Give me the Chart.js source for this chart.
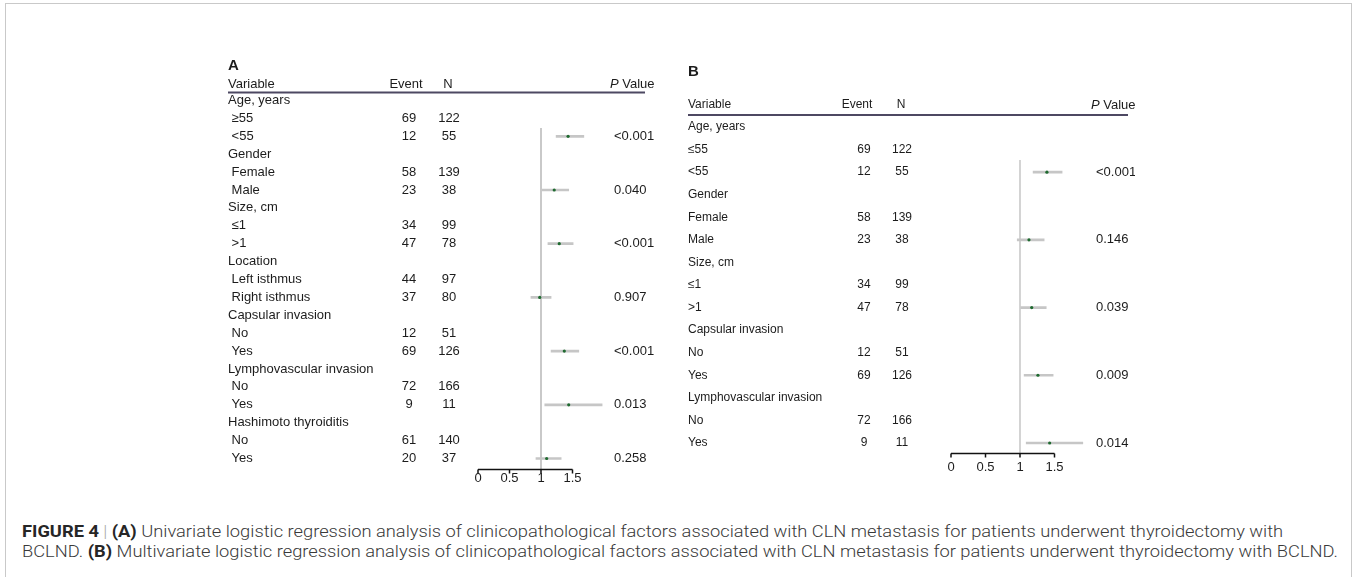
<!DOCTYPE html>
<html><head><meta charset="utf-8">
<script src="https://cdn.jsdelivr.net/npm/chart.js@4"></script>
<style>
html,body{margin:0;padding:0;background:#fff;}
body{width:1356px;height:577px;overflow:hidden;position:relative;font-family:"Liberation Sans",Arial,sans-serif;}
#frame{position:absolute;left:5px;top:3px;width:1347px;height:640px;border:1px solid #c9c9c9;box-sizing:border-box;}
canvas{position:absolute;}
.cap{position:absolute;left:22px;white-space:nowrap;font-family:Roboto,"Liberation Sans",sans-serif;font-weight:300;font-size:17px;line-height:20px;color:#3a3a3a;transform-origin:0 50%;}
.cap b{color:#262626;font-weight:700;}
.cap .sep{color:#a8a8a8;font-weight:300;padding:0 4px;}
</style></head>
<body>
<div id="frame"></div>
<canvas id="cA" width="480" height="460" style="left:200px;top:40px"></canvas>
<canvas id="cB" width="455" height="460" style="left:680px;top:40px"></canvas>
<div class="cap" id="cap1" style="top:521px"><b>FIGURE 4</b><span class="sep">|</span><b>(A)</b> Univariate logistic regression analysis of clinicopathological factors associated with CLN metastasis for patients underwent thyroidectomy with</div>
<div class="cap" id="cap2" style="top:541px">BCLND. <b>(B)</b> Multivariate logistic regression analysis of clinicopathological factors associated with CLN metastasis for patients underwent thyroidectomy with BCLND.</div>
<script>
// ---------- DATA: Panel A (univariate) ----------
const rowsA = ['Age, years',' ≥55',' <55','Gender',' Female',' Male','Size, cm',' ≤1',' >1','Location',' Left isthmus',' Right isthmus','Capsular invasion',' No',' Yes','Lymphovascular invasion',' No',' Yes','Hashimoto thyroiditis',' No',' Yes'];
const eventA = [null,69,12,null,58,23,null,34,47,null,44,37,null,12,69,null,72,9,null,61,20];
const nA     = [null,122,55,null,139,38,null,99,78,null,97,80,null,51,126,null,166,11,null,140,37];
const orA    = [null,null,1.43,null,null,1.21,null,null,1.29,null,null,0.98,null,null,1.37,null,null,1.44,null,null,1.09];
const lowA   = [null,null,1.24,null,null,1.02,null,null,1.11,null,null,0.84,null,null,1.16,null,null,1.06,null,null,0.92];
const highA  = [null,null,1.68,null,null,1.44,null,null,1.51,null,null,1.16,null,null,1.60,null,null,1.97,null,null,1.32];
const pA     = [null,null,'<0.001',null,null,'0.040',null,null,'<0.001',null,null,'0.907',null,null,'<0.001',null,null,'0.013',null,null,'0.258'];

// ---------- DATA: Panel B (multivariate) ----------
const rowsB = ['Age, years','≤55','<55','Gender','Female','Male','Size, cm','≤1','>1','Capsular invasion','No','Yes','Lymphovascular invasion','No','Yes'];
const eventB = [null,69,12,null,58,23,null,34,47,null,12,69,null,72,9];
const nB     = [null,122,55,null,139,38,null,99,78,null,51,126,null,166,11];
const orB    = [null,null,1.39,null,null,1.13,null,null,1.17,null,null,1.26,null,null,1.43];
const lowB   = [null,null,1.19,null,null,0.96,null,null,1.01,null,null,1.06,null,null,1.09];
const highB  = [null,null,1.61,null,null,1.35,null,null,1.38,null,null,1.48,null,null,1.91];
const pB     = [null,null,'<0.001',null,null,'0.146',null,null,'0.039',null,null,'0.009',null,null,'0.014'];

const xTicks = [0, 0.5, 1, 1.5];
const xTickLabels = ['0', '0.5', '1', '1.5'];
const headers = {variable:'Variable', event:'Event', n:'N', p:'Value'};

// ---------- LAYOUT (page coordinates) ----------
const FONT = '"Liberation Sans", Arial, sans-serif';
const layoutA = {
  letter:'A', canvasLeft:200, canvasTop:40, canvasW:480, canvasH:460,
  x0:478, unit:63, xMax:2.0, row0:100.5, pitch:17.9,
  font:13, pFont:13, tickFont:13, letterFont:15,
  letterRow:-1.93, headerRow:-0.92, lineRow:-0.45, lineX1:228, lineX2:645,
  refFrom:1.54, axisRow:20.59, tickLen:4, tickLabelDy:9,
  varX:228, eventX:409, nX:449, pX:614,
  hEventX:406, hNX:448, hPX:610, refWidth:2
};
const layoutB = {
  letter:'B', canvasLeft:680, canvasTop:40, canvasW:455, canvasH:460,
  x0:951, unit:69, xMax:2.0, row0:127, pitch:22.57,
  font:12, pFont:13, tickFont:13, letterFont:15,
  letterRow:-2.44, headerRow:-0.97, lineRow:-0.53, lineX1:688, lineX2:1128,
  refFrom:1.46, axisRow:14.44, tickLen:4, tickLabelDy:14,
  varX:688, eventX:864, nX:902, pX:1096,
  hEventX:857, hNX:901, hPX:1091, refWidth:1.6
};

const forestPlugin = {
  id: 'forestTable',
  beforeDatasetsDraw(chart, args, o) {
    const L = o.L, ctx = chart.ctx, xs = chart.scales.x, ys = chart.scales.y;
    const xr = xs.getPixelForValue(1);
    ctx.save();
    ctx.strokeStyle = '#c9c9c9'; ctx.lineWidth = L.refWidth;
    ctx.beginPath();
    ctx.moveTo(xr, ys.getPixelForValue(L.refFrom));
    ctx.lineTo(xr, ys.getPixelForValue(L.axisRow));
    ctx.stroke();
    ctx.restore();
  },
  afterDraw(chart, args, o) {
    const L = o.L, ctx = chart.ctx, xs = chart.scales.x, ys = chart.scales.y;
    const cx = v => v - L.canvasLeft;
    ctx.save();
    ctx.fillStyle = '#1c1c1c';
    ctx.textBaseline = 'middle';
    ctx.font = 'bold ' + L.letterFont + 'px ' + FONT;
    ctx.textAlign = 'left';
    ctx.fillText(L.letter, cx(L.varX), ys.getPixelForValue(L.letterRow));
    const hy = ys.getPixelForValue(L.headerRow);
    ctx.font = L.font + 'px ' + FONT;
    ctx.fillText(headers.variable, cx(L.varX), hy);
    ctx.textAlign = 'center';
    ctx.fillText(headers.event, cx(L.hEventX), hy);
    ctx.fillText(headers.n, cx(L.hNX), hy);
    ctx.textAlign = 'left';
    ctx.font = 'italic ' + L.pFont + 'px ' + FONT;
    ctx.fillText('P', cx(L.hPX), hy);
    const pw = ctx.measureText('P ').width;
    ctx.font = L.pFont + 'px ' + FONT;
    ctx.fillText(headers.p, cx(L.hPX) + pw, hy);
    ctx.strokeStyle = '#4d4862'; ctx.lineWidth = 2;
    const ly = ys.getPixelForValue(L.lineRow);
    ctx.beginPath(); ctx.moveTo(cx(L.lineX1), ly); ctx.lineTo(cx(L.lineX2), ly); ctx.stroke();
    const d = o.data;
    d.rows.forEach((r, i) => {
      const y = ys.getPixelForValue(i);
      ctx.font = L.font + 'px ' + FONT;
      ctx.textAlign = 'left';
      ctx.fillText(r, cx(L.varX), y);
      ctx.textAlign = 'center';
      if (d.event[i] != null) ctx.fillText(String(d.event[i]), cx(L.eventX), y);
      if (d.n[i] != null) ctx.fillText(String(d.n[i]), cx(L.nX), y);
      ctx.textAlign = 'left';
      ctx.font = L.pFont + 'px ' + FONT;
      if (d.p[i] != null) ctx.fillText(d.p[i], cx(L.pX), y);
    });
    const ay = Math.round(ys.getPixelForValue(L.axisRow)) + 0.5;
    const xa = xs.getPixelForValue(xTicks[0]), xb = xs.getPixelForValue(xTicks[xTicks.length - 1]);
    ctx.strokeStyle = '#111'; ctx.lineWidth = 1.5;
    ctx.beginPath(); ctx.moveTo(xa, ay); ctx.lineTo(xb, ay); ctx.stroke();
    ctx.textAlign = 'center';
    ctx.font = L.tickFont + 'px ' + FONT;
    xTicks.forEach((t, k) => {
      const px = xs.getPixelForValue(t);
      ctx.beginPath(); ctx.moveTo(px, ay); ctx.lineTo(px, ay + L.tickLen); ctx.stroke();
      ctx.fillText(xTickLabels[k], px, ay + L.tickLabelDy);
    });
    ctx.restore();
  }
};

function makePanel(id, L, rows, event, n, or, low, high, p) {
  const ci = low.map((l, i) => l == null ? null : [l, high[i]]);
  const chartLeft = L.x0 - L.canvasLeft;
  const chartRight = chartLeft + L.xMax * L.unit;
  const chartTop = L.row0 - L.pitch / 2 - L.canvasTop;
  const chartBottom = chartTop + rows.length * L.pitch;
  new Chart(document.getElementById(id), {
    type: 'bar',
    data: {
      labels: rows,
      datasets: [
        { type: 'line', data: or, showLine: false, pointRadius: 1.6, pointHoverRadius: 1.6,
          pointBackgroundColor: '#1f6a30', pointBorderWidth: 0, borderColor: '#1f6a30' },
        { type: 'bar', data: ci, barThickness: 2, backgroundColor: '#c6c6c6', borderWidth: 0 }
      ]
    },
    options: {
      indexAxis: 'y', responsive: false, animation: false, events: [],
      layout: { padding: { left: chartLeft, right: L.canvasW - chartRight, top: chartTop, bottom: L.canvasH - chartBottom } },
      plugins: {
        legend: { display: false }, tooltip: { enabled: false },
        forestTable: { L: L, data: { rows, event, n, p } }
      },
      scales: {
        x: { type: 'linear', min: 0, max: L.xMax, display: false },
        y: { type: 'category', display: false, offset: true }
      }
    },
    plugins: [forestPlugin]
  });
}

makePanel('cA', layoutA, rowsA, eventA, nA, orA, lowA, highA, pA);
makePanel('cB', layoutB, rowsB, eventB, nB, orB, lowB, highB, pB);

// fit caption width to the reference (second line spans ~22..1338)
(function fitCaption(){
  const c1 = document.getElementById('cap1'), c2 = document.getElementById('cap2');
  const s = 1316 / c2.getBoundingClientRect().width;
  c1.style.transform = c2.style.transform = 'scaleX(' + s.toFixed(4) + ')';
})();
</script>
</body></html>
